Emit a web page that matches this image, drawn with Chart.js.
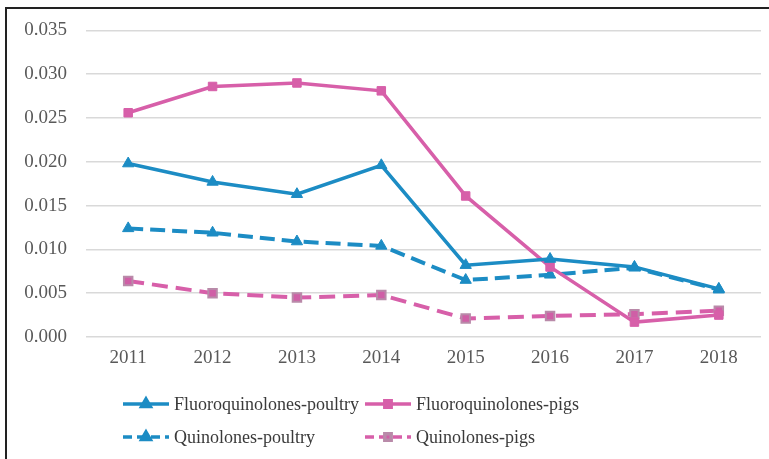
<!DOCTYPE html>
<html>
<head>
<meta charset="utf-8">
<script src="https://cdn.jsdelivr.net/npm/chart.js@4.4.1/dist/chart.umd.min.js"></script>
<style>
  html, body { margin:0; padding:0; background:#fff; overflow:hidden; }
  #frame { position:absolute; left:5px; top:7px; width:800px; height:500px; border:2px solid #222; }
  #wrap { position:absolute; left:0; top:0; width:769px; height:459px; }
</style>
</head>
<body>
<div id="frame"></div>
<div id="wrap"><canvas id="chart" width="769" height="459"></canvas></div>
<script>
// anos e séries
const anos = ['2011','2012','2013','2014','2015','2016','2017','2018'];
const fqAves   = [0.0198, 0.0177, 0.0163, 0.0196, 0.0082, 0.0089, 0.0080, 0.0055];
const fqSuinos = [0.0256, 0.0286, 0.0290, 0.0281, 0.0161, 0.0080, 0.0017, 0.0025];
const qAves    = [0.0124, 0.0119, 0.0109, 0.0104, 0.0065, 0.0071, 0.0079, 0.0054];
const qSuinos  = [0.0064, 0.0050, 0.0045, 0.0048, 0.0021, 0.0024, 0.0026, 0.0030];
const ticksY   = [0, 0.005, 0.010, 0.015, 0.020, 0.025, 0.030, 0.035];

const AZUL = '#1c8cc4';
const ROSA = '#d75fa9';
const fonteTick = { family: "'Liberation Serif', 'DejaVu Serif', serif", size: 19 };
const fonteLeg  = "18px 'Liberation Serif', 'DejaVu Serif', serif";

// legenda em duas colunas, desenhada no canvas
const legendaPlugin = {
  id: 'legenda2col',
  afterDraw(chart) {
    const ctx = chart.ctx;
    const ds = chart.data.datasets;
    ctx.save();
    ctx.font = fonteLeg;
    const x0 = 123, linhaW = 46, y0 = 404, dy = 33;
    const col1 = x0 + linhaW + 5 + ctx.measureText(ds[0].label).width + 6;
    ds.forEach((d, i) => {
      const x = (i % 2 === 0) ? x0 : col1;
      const y = y0 + Math.floor(i / 2) * dy;
      const tracejado = d.borderDash ? [9, 5] : [];
      ctx.setLineDash(tracejado);
      ctx.lineWidth = 3.5;
      ctx.strokeStyle = d.borderColor;
      ctx.beginPath();
      ctx.moveTo(x, y); ctx.lineTo(x + linhaW, y);
      ctx.stroke();
      ctx.setLineDash([]);
      ctx.fillStyle = d.pointBackgroundColor;
      ctx.strokeStyle = d.pointBorderColor;
      Chart.helpers.drawPoint(ctx, { pointStyle: d.pointStyle, radius: d.pointRadius - 1.5, rotation: 0, borderWidth: d.pointBorderWidth }, x + linhaW / 2, y);
      ctx.fillStyle = '#3a3a3a';
      ctx.textBaseline = 'middle';
      ctx.textAlign = 'left';
      ctx.fillText(d.label, x + linhaW + 5, y + 1);
    });
    ctx.restore();
  }
};

new Chart(document.getElementById('chart'), {
  type: 'line',
  data: {
    labels: anos,
    datasets: [
      { label:'Fluoroquinolones-poultry', data:fqAves, borderColor:AZUL, borderWidth:3.5,
        pointStyle:'triangle', pointRadius:6.5, pointBackgroundColor:AZUL, pointBorderColor:AZUL, pointBorderWidth:1 },
      { label:'Fluoroquinolones-pigs', data:fqSuinos, borderColor:ROSA, borderWidth:3.5,
        pointStyle:'rect', pointRadius:6, pointBackgroundColor:ROSA, pointBorderColor:ROSA, pointBorderWidth:1 },
      { label:'Quinolones-poultry', data:qAves, borderColor:AZUL, borderWidth:4, borderDash:[15,7],
        pointStyle:'triangle', pointRadius:6.5, pointBackgroundColor:AZUL, pointBorderColor:AZUL, pointBorderWidth:1 },
      { label:'Quinolones-pigs', data:qSuinos, borderColor:ROSA, borderWidth:4, borderDash:[16,8],
        pointStyle:'rect', pointRadius:6, pointBackgroundColor:'#cf5fa6', pointBorderColor:'#b98aa9', pointBorderWidth:2 },
    ]
  },
  options: {
    responsive: false, animation: false,
    layout: { padding: { left:6, right:8, top:29, bottom:82 } },
    plugins: { legend: { display:false }, tooltip: { enabled:false } },
    scales: {
      x: {
        offset: true,
        grid: { display:false, drawTicks:false },
        border: { display:false },
        ticks: { font:fonteTick, color:'#595959', padding:10 },
        afterFit: s => { s.height = 40; }
      },
      y: {
        min: 0, max: 0.035,
        afterBuildTicks: s => { s.ticks = ticksY.map(v => ({ value:v })); },
        grid: { color:'#d9d9d9', lineWidth:1.5, drawTicks:false },
        border: { display:false },
        ticks: { font:fonteTick, color:'#595959', padding:19, callback: v => v.toFixed(3) },
        afterFit: s => { s.width = 80; }
      }
    }
  },
  plugins: [legendaPlugin]
});
</script>
</body>
</html>
